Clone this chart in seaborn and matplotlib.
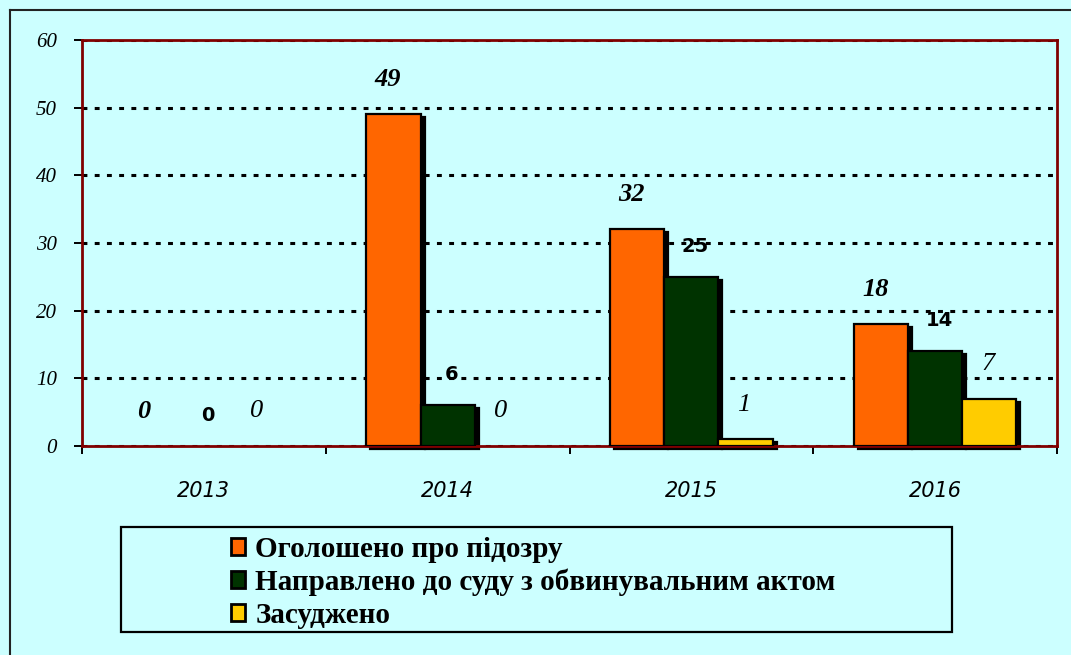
import seaborn as sns
import matplotlib.pyplot as plt
import matplotlib.transforms as mtransforms
from matplotlib.patches import Rectangle, Patch
from matplotlib.lines import Line2D
import pandas as pd

# данные
years = ["2013", "2014", "2015", "2016"]
series_names = ["Оголошено про підозру",
                "Направлено до суду з обвинувальним актом",
                "Засуджено"]
suspicion = [0, 49, 32, 18]
to_court = [0, 6, 25, 14]
convicted = [0, 0, 1, 7]
colors = ["#FF6600", "#003300", "#FFCC00"]
y_ticks = [0, 10, 20, 30, 40, 50, 60]

rows = []
for name, vals in zip(series_names, [suspicion, to_court, convicted]):
    for y, v in zip(years, vals):
        rows.append({"year": y, "series": name, "value": v})
df = pd.DataFrame(rows)

bg = "#CCFFFF"
W, H = 1071, 655
fig = plt.figure(figsize=(W / 100, H / 100), dpi=100, facecolor=bg)
ax = fig.add_axes([82 / W, 1 - 446 / H, 975 / W, 406 / H], facecolor=bg)

sns.barplot(data=df, x="year", y="value", hue="series", palette=colors,
            width=2 / 3, gap=0, edgecolor="black", linewidth=1.6,
            saturation=1, legend=False, ax=ax, zorder=3)

# тени справа от столбиков
shadow_tr = mtransforms.offset_copy(ax.transData, fig=fig, x=4, y=-3, units="dots")
for p in ax.patches:
    if p.get_height() <= 0:
        p.set_visible(False)
        continue
    ax.add_patch(Rectangle((p.get_x(), p.get_y()), p.get_width(), p.get_height(),
                           facecolor="black", edgecolor="black", linewidth=1.6,
                           transform=shadow_tr, zorder=2.5, clip_on=False))

# подписи значений
label_styles = [
    dict(family="Liberation Serif", weight="bold", style="italic", size=19, dx=-4, dy=25),
    dict(family="DejaVu Sans", weight="bold", style="normal", size=14, dx=3, dy=22),
    dict(family="Liberation Serif", weight="normal", style="italic", size=19, dx=-1, dy=25),
]
for cont, st in zip(ax.containers, label_styles):
    for p in cont.patches:
        xc = p.get_x() + p.get_width() / 2
        ax.annotate(f"{int(p.get_height())}", (xc, p.get_height()),
                    xytext=(st["dx"], st["dy"]), textcoords="offset points",
                    ha="center", va="center", family=st["family"],
                    weight=st["weight"], style=st["style"], fontsize=st["size"],
                    annotation_clip=False)

ax.set_ylim(0, 60)
ax.set_xlim(-0.5, 3.5)
ax.set_yticks(y_ticks, labels=[str(v) for v in y_ticks],
              fontfamily="Liberation Serif", fontstyle="italic", fontsize=15)
ax.set_xticks(range(len(years)), labels=years,
              fontfamily="DejaVu Sans", fontstyle="italic", fontsize=15)
ax.set_xticks([-0.5, 0.5, 1.5, 2.5, 3.5], minor=True)
ax.set_xlabel("")
ax.set_ylabel("")

ax.yaxis.grid(True, color="black", linewidth=2.2, linestyle=(0, (1.6, 2.4)))
ax.set_axisbelow(True)

for s in ax.spines.values():
    s.set_color("#800000")
    s.set_linewidth(2)

ax.tick_params(axis="y", direction="out", length=6, width=1.4, color="black", pad=12)
ax.tick_params(axis="x", which="major", length=0, pad=25)
ax.tick_params(axis="x", which="minor", direction="out", length=6, width=1.4, color="black")

# внешняя рамка
fig.add_artist(Line2D([10 / W, 10 / W], [0, 1 - 10 / H], transform=fig.transFigure,
                      color="#222222", linewidth=1.5))
fig.add_artist(Line2D([10 / W, 1], [1 - 10 / H, 1 - 10 / H], transform=fig.transFigure,
                      color="#222222", linewidth=1.5))

# легенда
fig.add_artist(Rectangle((121 / W, 1 - 632 / H), 831 / W, 105 / H, transform=fig.transFigure,
                         facecolor=bg, edgecolor="black", linewidth=1.6))
handles = [Patch(facecolor=c, edgecolor="black", linewidth=2) for c in colors]
fig.legend(handles, series_names, loc="upper left", bbox_to_anchor=(216 / W, 1 - 521 / H),
           frameon=False, borderpad=0, handlelength=0.5, handleheight=0.5,
           handletextpad=0.35, labelspacing=0.2,
           prop=dict(family="Liberation Serif", weight="bold", size=21))

fig.savefig("out.png", dpi=100, facecolor=bg)
